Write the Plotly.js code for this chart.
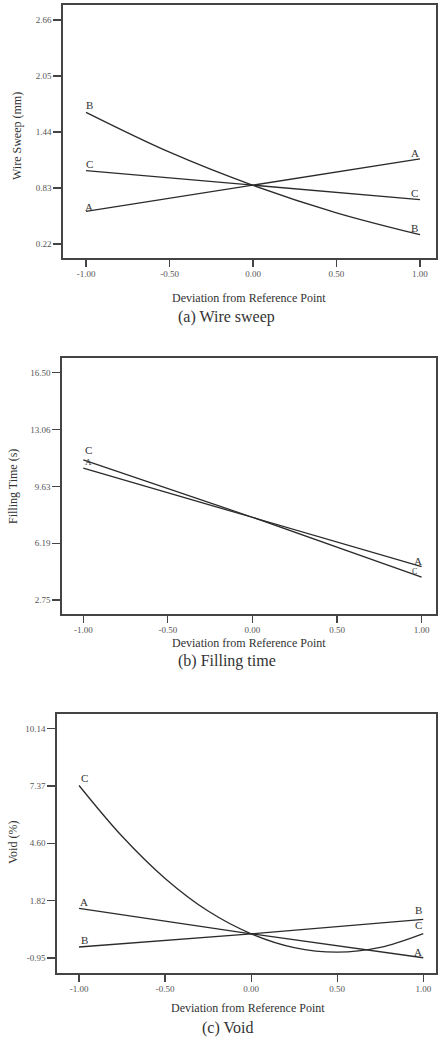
<!DOCTYPE html>
<html>
<head>
<meta charset="utf-8">
<script src="https://cdn.plot.ly/plotly-3.0.1.min.js"></script>
<style>
html,body{margin:0;padding:0;background:#fff;}
#chart{width:438px;height:1037px;}
</style>
</head>
<body>
<div id="chart"></div>
<script>
// ---- Data ----
var xTickVals = [-1, -0.5, 0, 0.5, 1];
var xTickText = ["-1.00", "-0.50", "0.00", "0.50", "1.00"];

// (a) Wire sweep
var wsX3 = [-1, 0, 1];
var wsX5 = [-1, -0.5, 0, 0.5, 1];
var wsA = [0.576, 0.859, 1.146];
var wsB = [1.654, 1.22, 0.859, 0.56, 0.322];
var wsC = [1.019, 0.859, 0.703];
var wsTickVals = [0.22, 0.83, 1.44, 2.05, 2.66];
var wsTickText = ["0.22", "0.83", "1.44", "2.05", "2.66"];

// (b) Filling time
var ftX = [-1, 0, 1];
var ftA = [10.73, 7.76, 4.77];
var ftC = [11.23, 7.76, 4.13];
var ftTickVals = [2.75, 6.19, 9.63, 13.06, 16.50];
var ftTickText = ["2.75", "6.19", "9.63", "13.06", "16.50"];

// (c) Void
var vX3 = [-1, 0, 1];
var vX9 = [-1, -0.75, -0.5, -0.25, 0, 0.25, 0.5, 0.75, 1];
var vA = [1.45, 0.22, -0.94];
var vB = [-0.42, 0.22, 0.92];
var vC = [7.40, 4.94, 2.90, 1.32, 0.22, -0.45, -0.67, -0.44, 0.23];
var vTickVals = [-0.95, 1.82, 4.60, 7.37, 10.14];
var vTickText = ["-0.95", "1.82", "4.60", "7.37", "10.14"];

// ---- Drawing ----
var W = 438, H = 1037;
var serif = "Liberation Serif, Times New Roman, serif";
var lineStyle = {color: "#2b2b2b", width: 1.3};

function tr(x, y, xa, ya, shape) {
  return {x: x, y: y, xaxis: xa, yaxis: ya, type: "scatter", mode: "lines",
          line: Object.assign({shape: shape || "linear", smoothing: 1}, lineStyle),
          hoverinfo: "skip", showlegend: false};
}
var data = [
  tr(wsX3, wsA, "x", "y"), tr(wsX5, wsB, "x", "y", "spline"), tr(wsX3, wsC, "x", "y"),
  tr(ftX, ftA, "x2", "y2"), tr(ftX, ftC, "x2", "y2"),
  tr(vX3, vA, "x3", "y3"), tr(vX3, vB, "x3", "y3"), tr(vX9, vC, "x3", "y3", "spline")
];

function px(v) { return v / W; }
function py(v) { return 1 - v / H; }

function xa(dom, range, anchor) {
  return {domain: dom, range: range, anchor: anchor, tickvals: xTickVals, ticktext: xTickText,
          ticks: "outside", ticklen: 7, tickwidth: 1.2, tickcolor: "#444",
          showline: true, mirror: true, linecolor: "#444", linewidth: 1.6,
          showgrid: false, zeroline: false,
          tickfont: {family: serif, size: 9, color: "#555"}};
}
function ya(dom, range, anchor, tv, tt) {
  return {domain: dom, range: range, anchor: anchor, tickvals: tv, ticktext: tt,
          ticks: "outside", ticklen: 8, tickwidth: 1.2, tickcolor: "#444",
          showline: true, mirror: true, linecolor: "#444", linewidth: 1.6,
          showgrid: false, zeroline: false,
          tickfont: {family: serif, size: 9, color: "#555"}};
}

function lab(text, x, y, xr, yr, size) {
  return {text: text, x: x, y: y, xref: xr, yref: yr, showarrow: false,
          font: {family: serif, size: size || 11, color: "#333"}};
}
function pap(text, x, y, size, angle) {
  var a = {text: text, x: px(x), y: py(y), xref: "paper", yref: "paper", showarrow: false,
           xanchor: "center", yanchor: "middle",
           font: {family: serif, size: size, color: "#333"}};
  if (angle) a.textangle = angle;
  return a;
}

var annotations = [
  // panel a curve labels
  lab("B", -0.98, 1.734, "x", "y"), lab("C", -0.98, 1.09, "x", "y"), lab("A", -0.98, 0.62, "x", "y"),
  lab("A", 0.97, 1.21, "x", "y"), lab("C", 0.97, 0.775, "x", "y"), lab("B", 0.97, 0.394, "x", "y"),
  // panel b
  lab("C", -0.97, 11.83, "x2", "y2"), lab("A", -0.97, 11.1, "x2", "y2", 9),
  lab("A", 0.98, 5.1, "x2", "y2"), lab("C", 0.96, 4.45, "x2", "y2", 8),
  // panel c
  lab("C", -0.97, 7.75, "x3", "y3"), lab("A", -0.97, 1.77, "x3", "y3"), lab("B", -0.97, -0.09, "x3", "y3"),
  lab("B", 0.97, 1.36, "x3", "y3"), lab("C", 0.97, 0.64, "x3", "y3"), lab("A", 0.97, -0.66, "x3", "y3"),
  // axis titles and captions
  pap("Wire Sweep (mm)", 17, 136, 12, -90),
  pap("Deviation from Reference Point", 249, 298, 12),
  pap("(a) Wire sweep", 226, 317, 16),
  pap("Filling Time (s)", 13, 487, 12, -90),
  pap("Deviation from Reference Point", 249, 643, 12),
  pap("(b) Filling time", 227, 661, 16),
  pap("Void (%)", 13, 843, 12, -90),
  pap("Deviation from Reference Point", 248, 1008, 12),
  pap("(c) Void", 227, 1028, 16)
];

var layout = {
  width: W, height: H,
  margin: {l: 0, r: 0, t: 0, b: 0},
  paper_bgcolor: "#fff", plot_bgcolor: "#fff",
  showlegend: false,
  xaxis: xa([px(63), px(436)], [-1.138, 1.096], "y"),
  yaxis: ya([py(258), py(5)], [0.0675, 2.823], "x", wsTickVals, wsTickText),
  xaxis2: xa([px(62), px(436)], [-1.126, 1.085], "y2"),
  yaxis2: ya([py(614), py(358)], [1.903, 17.40], "x2", ftTickVals, ftTickText),
  xaxis3: xa([px(57), px(436)], [-1.128, 1.074], "y3"),
  yaxis3: ya([py(973), py(714)], [-1.678, 10.86], "x3", vTickVals, vTickText),
  annotations: annotations
};

Plotly.newPlot("chart", data, layout, {displayModeBar: false, staticPlot: true});
</script>
</body>
</html>
